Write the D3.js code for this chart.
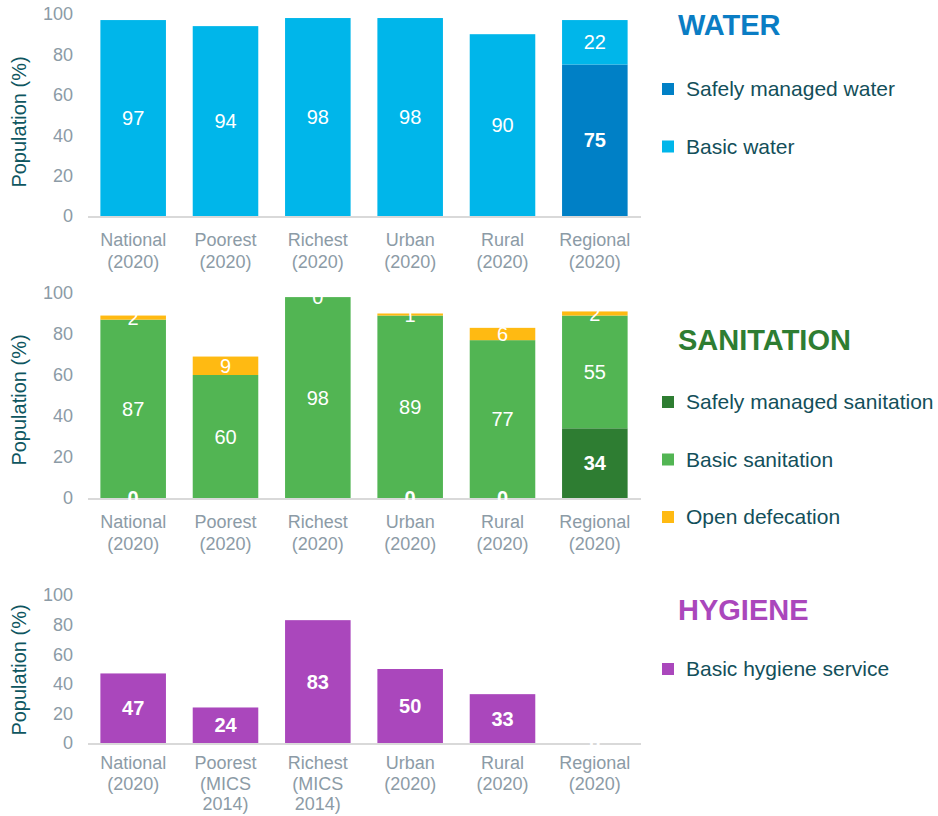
<!DOCTYPE html>
<html><head><meta charset="utf-8">
<script src="https://cdn.jsdelivr.net/npm/d3@7"></script>
<style>body{margin:0;background:#fff;}svg{display:block;font-family:"Liberation Sans",Arial,sans-serif;}</style>
</head><body>
<svg id="c" width="938" height="816"></svg>
<script>
const categories = ["National","Poorest","Richest","Urban","Rural","Regional"];
const catLabels = [["National","(2020)"],["Poorest","(2020)"],["Richest","(2020)"],["Urban","(2020)"],["Rural","(2020)"],["Regional","(2020)"]];
const hygCatLabels = [["National","(2020)"],["Poorest","(MICS","2014)"],["Richest","(MICS","2014)"],["Urban","(2020)"],["Rural","(2020)"],["Regional","(2020)"]];
const waterSafely = [null,null,null,null,null,75];
const waterBasic = [97,94,98,98,90,22];
const sanSafely = [0,null,null,0,0,34];
const sanBasic = [87,60,98,89,77,55];
const sanOpen = [2,9,0,1,6,2];
const hygBasic = [47,24,83,50,33,0];
const yTicks = [0,20,40,60,80,100];

const svg = d3.select("#c");
const x = d3.scaleBand().domain(categories).range([87,641]).paddingInner(0.29).paddingOuter(0.145);

const gridCol = "#d9d9d9", tickCol = "#8c9ba6", titleCol = "#0e5660";

function panel(cfg){
  const y = d3.scaleLinear().domain([0,100]).range([cfg.y0, cfg.y100]);
  const g = svg.append("g");
  g.selectAll(".yt").data(yTicks).join("text")
    .attr("x",73).attr("y",d=>y(d)).attr("dy","0.35em")
    .attr("text-anchor","end").attr("fill",tickCol).attr("font-size",18).text(d=>d);
  g.append("text").attr("transform",`translate(26,${cfg.titleY}) rotate(-90)`)
    .attr("text-anchor","middle").attr("fill",titleCol).attr("font-size",20).text("Population (%)");
  g.append("line").attr("x1",88).attr("x2",641).attr("y1",y(0)+1).attr("y2",y(0)+1)
    .attr("stroke",gridCol).attr("stroke-width",2);
  const cum = categories.map(()=>0);
  const labels = [];
  cfg.series.forEach(s=>{
    s.values.forEach((v,i)=>{
      if(v==null) return;
      const b = cum[i], t = b+v;
      if(v>0) g.append("rect").attr("x",x(categories[i])).attr("width",x.bandwidth())
        .attr("y",y(t)).attr("height",y(b)-y(t)).attr("fill",s.color);
      labels.push({x:x(categories[i])+x.bandwidth()/2, y:y((b+t)/2), v, bold:s.bold});
      cum[i]=t;
    });
  });
  labels.forEach(l=>{
    g.append("text").attr("x",l.x).attr("y",l.y).attr("dy","0.36em")
      .attr("text-anchor","middle").attr("fill","#fff").attr("font-size",20)
      .attr("font-weight",l.bold?"bold":"normal").text(l.v);
  });
  cfg.cats.forEach((lines,i)=>{
    const t = g.append("text").attr("x",x(categories[i])+x.bandwidth()/2).attr("y",cfg.catY)
      .attr("text-anchor","middle").attr("fill",tickCol).attr("font-size",18);
    lines.forEach((ln,j)=>t.append("tspan").attr("x",x(categories[i])+x.bandwidth()/2).attr("dy",j?cfg.lh:0).text(ln));
  });
  svg.append("text").attr("x",678).attr("y",cfg.legTitleY).attr("font-size",29).attr("font-weight","bold")
    .attr("fill",cfg.legColor).attr("dominant-baseline","central").text(cfg.legTitle);
  cfg.legend.forEach((it,k)=>{
    const ly = cfg.legY + k*57.5;
    svg.append("rect").attr("x",662).attr("y",ly-6).attr("width",12).attr("height",12).attr("fill",it.color);
    svg.append("text").attr("x",686).attr("y",ly).attr("dy","0.35em").attr("font-size",21)
      .attr("fill","#134f5a").text(it.name);
  });
}

panel({y0:216,y100:14,titleY:122,catY:246,lh:21.5,cats:catLabels,
  series:[{values:waterSafely,color:"#0080c6",bold:true},{values:waterBasic,color:"#00b6ea",bold:false}],
  legTitle:"WATER",legColor:"#0a7dc4",legTitleY:25,legY:89,
  legend:[{name:"Safely managed water",color:"#0080c6"},{name:"Basic water",color:"#00b6ea"}]});

panel({y0:498,y100:293,titleY:400,catY:528,lh:21.5,cats:catLabels,
  series:[{values:sanSafely,color:"#2e7d32",bold:true},{values:sanBasic,color:"#52b553",bold:false},{values:sanOpen,color:"#ffba12",bold:false}],
  legTitle:"SANITATION",legColor:"#2e7d32",legTitleY:340,legY:402,
  legend:[{name:"Safely managed sanitation",color:"#2e7d32"},{name:"Basic sanitation",color:"#52b553"},{name:"Open defecation",color:"#ffba12"}]});

panel({y0:743,y100:595,titleY:670,catY:769,lh:20.5,cats:hygCatLabels,
  series:[{values:hygBasic,color:"#aa47bc",bold:true}],
  legTitle:"HYGIENE",legColor:"#aa47bc",legTitleY:610,legY:669,
  legend:[{name:"Basic hygiene service",color:"#aa47bc"}]});
</script>
</body></html>
